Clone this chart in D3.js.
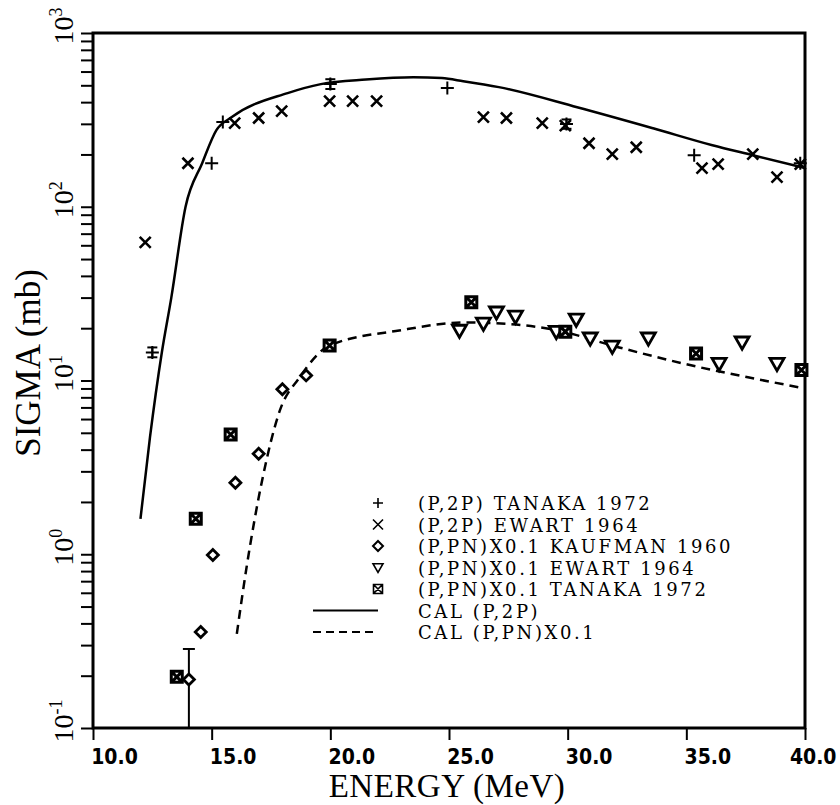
<!DOCTYPE html>
<html>
<head>
<meta charset="utf-8">
<script src="https://cdn.jsdelivr.net/npm/d3@7/dist/d3.min.js"></script>
<style>
  html, body { margin: 0; padding: 0; background: #fff; }
  svg { display: block; }
</style>
</head>
<body>
<svg id="chart" width="840" height="805"></svg>
<script>
// ---------------- DATA ----------------
const xTicks = [10, 15, 20, 25, 30, 35, 40];
const yDecades = [0.1, 1, 10, 100, 1000];
const yDecadeExp = ["-1", "0", "1", "2", "3"];

// (P,2P) TANAKA 1972  [E, sigma]
const p2pTanaka = [[12.5, 14.5], [15.0, 178], [15.47, 307], [20.0, 508], [24.93, 482], [29.95, 299], [35.33, 198], [39.8, 178]];
// error bars [E, low, high]
const p2pTanakaErr = [[12.5, 13.6, 15.5], [20.0, 476, 542], [29.95, 281, 318]];

// (P,2P) EWART 1964
const p2pEwart = [[12.2, 62.4], [14.0, 178], [15.97, 303], [16.98, 324], [17.95, 355], [19.97, 405], [20.94, 405], [21.95, 405],
  [26.45, 328], [27.42, 324], [28.93, 303], [29.9, 293], [30.9, 232], [31.88, 201], [32.89, 220], [35.66, 167], [36.34, 176],
  [37.8, 201], [38.82, 148], [39.8, 176]];

// (P,PN)X0.1 KAUFMAN 1960
const pnKaufman = [[14.04, 0.19], [14.54, 0.357], [15.05, 0.99], [16.0, 2.58], [16.98, 3.79], [17.98, 8.9], [18.98, 10.7]];
const pnKaufmanErr = [[14.04, 0.1, 0.285]];

// (P,PN)X0.1 EWART 1964
const pnEwart = [[25.44, 19.4], [26.45, 21.3], [27.0, 24.7], [27.8, 23.4], [29.52, 19.1], [30.36, 22.5], [30.95, 17.5],
  [31.88, 15.7], [33.4, 17.5], [36.38, 12.5], [37.35, 16.6], [38.82, 12.5]];

// (P,PN)X0.1 TANAKA 1972
const pnTanaka = [[13.53, 0.197], [14.33, 1.6], [15.8, 4.89], [19.97, 15.9], [25.94, 28.2], [29.9, 19.1], [35.41, 14.3], [39.85, 11.5]];

// CAL (P,2P)
const calP2P = [[12.0, 1.6], [12.4, 4.7], [12.9, 14.5], [13.3, 30], [13.9, 100], [14.6, 178], [15.2, 276], [15.85, 328],
  [18.2, 451], [19.6, 508], [21.5, 540], [23.5, 557], [24.7, 550], [25.6, 528], [27.1, 488], [30.4, 374], [33.6, 283],
  [36.1, 226], [37.8, 198], [40.0, 167]];

// CAL (P,PN)X0.1
const calPN = [[16.06, 0.348], [16.47, 0.84], [17.15, 2.76], [17.87, 6.7], [18.7, 10.4], [19.97, 15.9], [22.9, 19.4],
  [25.73, 21.6], [26.4, 21.5], [29.35, 19.7], [32.17, 15.5], [35.0, 12.4], [37.8, 10.3], [40.0, 9.0]];

const legendLabels = [
  "(P,2P) TANAKA 1972",
  "(P,2P) EWART 1964",
  "(P,PN)X0.1 KAUFMAN 1960",
  "(P,PN)X0.1 EWART 1964",
  "(P,PN)X0.1 TANAKA 1972",
  "CAL (P,2P)",
  "CAL (P,PN)X0.1"
];
const legendKinds = ["plus", "cross", "diamond", "tri", "box", "solid", "dashed"];

// ---------------- LAYOUT ----------------
const L = 93, R = 805, T = 33, B = 728;
const svg = d3.select("#chart");
const x = d3.scaleLinear().domain([10, 40]).range([L, R]);
const y = d3.scaleLog().domain([0.1, 1000]).range([B, T]);

const serif = "'Liberation Serif', 'DejaVu Serif', serif";
const wideSerif = "'DejaVu Serif', 'Liberation Serif', serif";
const ink = "#000";

// ---------------- AXES ----------------
const yTickVals = [];
for (let e = -1; e < 3; e++) for (let m = 1; m <= 9; m++) yTickVals.push(m * Math.pow(10, e));
yTickVals.push(1000);

const yAxis = d3.axisLeft(y).tickValues(yTickVals).tickSize(12).tickFormat("");
const gy = svg.append("g").attr("transform", `translate(${L},0)`).call(yAxis);
gy.select(".domain").remove();
gy.selectAll(".tick line").attr("stroke", ink).attr("stroke-width", 2);

// rotated decade labels 10^n
const yLab = svg.append("g").selectAll("text").data(yDecades).join("text")
  .attr("transform", d => `translate(${L - 20},${y(d) - 7}) rotate(-90)`)
  .attr("text-anchor", "middle")
  .attr("fill", ink)
  .style("font-family", serif).style("font-size", "28px");
yLab.append("tspan").text("10");
yLab.append("tspan").attr("dy", "-0.6em").style("font-size", "18px").text((d, i) => yDecadeExp[i]);

const xAxis = d3.axisBottom(x).tickValues(xTicks).tickSize(12).tickFormat(d3.format(".1f"));
const gx = svg.append("g").attr("transform", `translate(0,${B})`).call(xAxis);
gx.select(".domain").remove();
gx.selectAll(".tick line").attr("stroke", ink).attr("stroke-width", 2);
gx.selectAll(".tick text")
  .attr("fill", ink)
  .attr("y", 36).attr("dy", null)
  .style("font-family", "'Liberation Sans Narrow', 'DejaVu Sans Condensed', 'Liberation Sans', sans-serif")
  .style("font-weight", "bold")
  .style("font-size", "21px")
  .each(function(d) {
    const w = this.getComputedTextLength();
    const px = x(d);
    let dx = 21;
    if (px + dx + w / 2 > 836) dx = 836 - w / 2 - px;
    d3.select(this).attr("x", dx);
  });

// frame
svg.append("rect").attr("x", L).attr("y", T).attr("width", R - L).attr("height", B - T)
  .attr("fill", "none").attr("stroke", ink).attr("stroke-width", 3);

// titles
svg.append("text").attr("x", 447).attr("y", 797).attr("text-anchor", "middle")
  .style("font-family", serif).style("font-size", "33px").style("letter-spacing", "0.5px")
  .attr("fill", ink).text("ENERGY (MeV)");
svg.append("text").attr("transform", "translate(40,363) rotate(-90)").attr("text-anchor", "middle")
  .style("font-family", serif).style("font-size", "35px").attr("fill", ink).text("SIGMA (mb)");

// ---------------- CURVES ----------------
const line = d3.line().x(d => x(d[0])).y(d => y(d[1])).curve(d3.curveMonotoneX);
svg.append("path").datum(calP2P).attr("d", line).attr("fill", "none").attr("stroke", ink).attr("stroke-width", 2.5);
svg.append("path").datum(calPN).attr("d", line).attr("fill", "none").attr("stroke", ink).attr("stroke-width", 2.5)
  .attr("stroke-dasharray", "9,6");

// ---------------- MARKERS ----------------
function shape(kind, s) {
  switch (kind) {
    case "plus": return `M${-s},0H${s}M0,${-s}V${s}`;
    case "cross": return `M${-s},${-s}L${s},${s}M${-s},${s}L${s},${-s}`;
    case "diamond": return `M0,${-s}L${s},0L0,${s}L${-s},0Z`;
    case "tri": return `M${-s},${-s * 0.75}L${s},${-s * 0.75}L0,${s}Z`;
    case "box": return `M${-s},${-s}H${s}V${s}H${-s}ZM${-s},${-s}L${s},${s}M${-s},${s}L${s},${-s}`;
  }
}
function drawMarks(data, kind, s, sw, fill) {
  svg.append("g").selectAll("path").data(data).join("path")
    .attr("transform", d => `translate(${x(d[0])},${y(d[1])})`)
    .attr("d", shape(kind, s))
    .attr("fill", fill || "none")
    .attr("stroke", ink).attr("stroke-width", sw);
}
function drawErr(data, cap, bottomCap) {
  const g = svg.append("g").attr("stroke", ink).attr("stroke-width", 2);
  data.forEach(d => {
    const px = x(d[0]);
    g.append("line").attr("x1", px).attr("x2", px).attr("y1", y(d[1])).attr("y2", y(d[2]));
    g.append("line").attr("x1", px - cap).attr("x2", px + cap).attr("y1", y(d[2])).attr("y2", y(d[2]));
    if (bottomCap) g.append("line").attr("x1", px - cap).attr("x2", px + cap).attr("y1", y(d[1])).attr("y2", y(d[1]));
  });
}

drawErr(p2pTanakaErr, 5, true);
drawErr(pnKaufmanErr, 6, false);
drawMarks(p2pEwart, "cross", 5.5, 2.6);
drawMarks(p2pTanaka, "plus", 6.5, 2);
drawMarks(pnEwart, "tri", 7, 2.8, "#fff");
drawMarks(pnKaufman, "diamond", 5.5, 2.8, "#fff");
drawMarks(pnTanaka, "box", 5.5, 3, "#fff");

// ---------------- LEGEND ----------------
const legY0 = 503, legDy = 21.5, legSymX = 378, legTextX = 418;
const leg = svg.append("g");
legendLabels.forEach((lab, i) => {
  const cy = legY0 + i * legDy;
  const k = legendKinds[i];
  if (k === "solid" || k === "dashed") {
    leg.append("line").attr("x1", 313).attr("x2", legSymX).attr("y1", cy).attr("y2", cy)
      .attr("stroke", ink).attr("stroke-width", 2)
      .attr("stroke-dasharray", k === "dashed" ? "8,5" : null);
  } else {
    const s = k === "tri" ? 5 : (k === "box" ? 4.5 : 5);
    leg.append("path").attr("transform", `translate(${legSymX},${cy})`).attr("d", shape(k, s))
      .attr("fill", "none").attr("stroke", ink).attr("stroke-width", k === "diamond" ? 2 : 1.6);
  }
  leg.append("text").attr("x", legTextX).attr("y", cy + 7)
    .style("font-family", wideSerif).style("font-size", "18px").style("letter-spacing", "2.6px")
    .attr("fill", ink).text(lab);
});
</script>
</body>
</html>
